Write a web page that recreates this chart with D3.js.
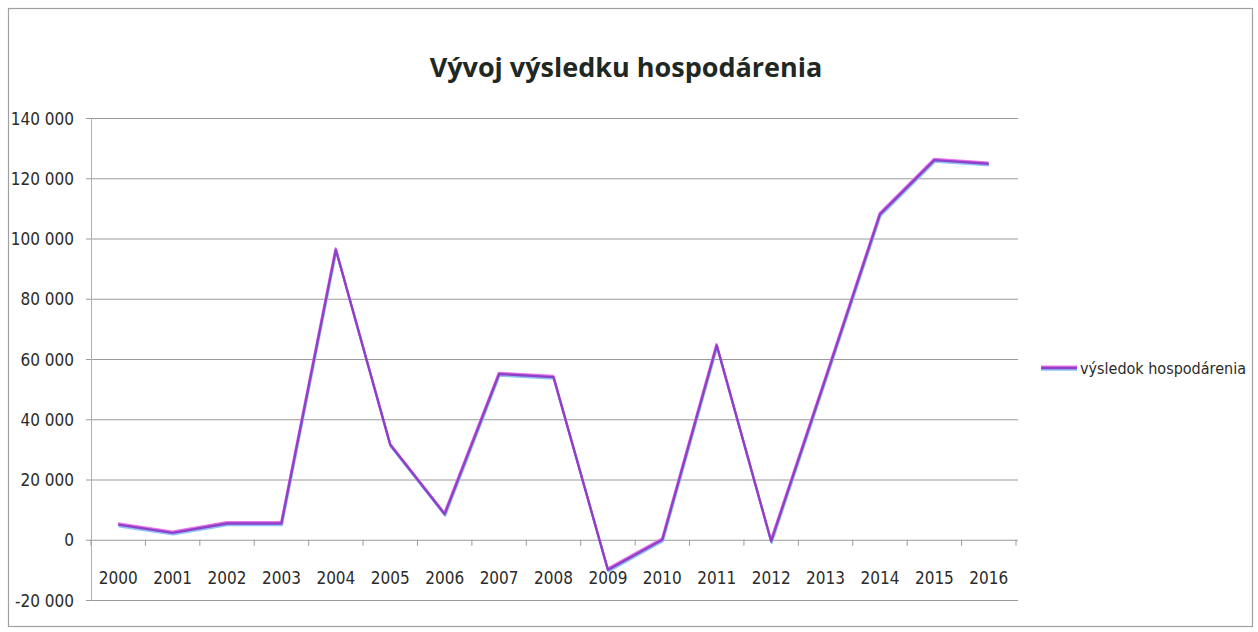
<!DOCTYPE html>
<html lang="sk">
<head>
<meta charset="UTF-8">
<title>Vývoj výsledku hospodárenia</title>
<script src="https://d3js.org/d3.v7.min.js"></script>
<style>
body {
  margin: 0;
  background: #fff;
  font-family: 'Liberation Sans Narrow', 'DejaVu Sans Condensed', sans-serif;
}
.axis text {
  fill: #2b2b2b;
  font-size: 17px;
  font-family: 'Liberation Sans Narrow', 'DejaVu Sans Condensed', sans-serif;
}
.grid line {
  stroke: #9a9a9a;
  stroke-width: 1.1;
}
.grid .domain { display: none; }
</style>
</head>
<body>
<svg width="1258" height="632"></svg>
<script>
// data
var years = ["2000", "2001", "2002", "2003", "2004", "2005", "2006", "2007", "2008",
             "2009", "2010", "2011", "2012", "2013", "2014", "2015", "2016"];
var values = [5000, 2300, 5400, 5400, 96300, 31500, 8500, 55000, 54000,
              -10000, 0, 64500, -500, 53500, 108000, 126000, 124800];
var yTicks = [-20000, 0, 20000, 40000, 60000, 80000, 100000, 120000, 140000];
var seriesName = "výsledok hospodárenia";
var title = "Vývoj výsledku hospodárenia";

var svg = d3.select("svg");

var plotLeft = 91, plotRight = 1016, plotTop = 118, plotBottom = 600;

var x = d3.scaleBand().domain(years).range([plotLeft, plotRight]);
var y = d3.scaleLinear().domain([-20000, 140000]).range([plotBottom, plotTop]);

var fmt = d3.formatLocale({
  decimal: ",", thousands: " ", grouping: [3], currency: ["", " €"], minus: "-"
}).format(",d");

// outer chart frame
svg.append("rect")
  .attr("x", 8.5).attr("y", 8.5)
  .attr("width", 1244).attr("height", 618)
  .attr("fill", "none")
  .attr("stroke", "#a0a0a0")
  .attr("stroke-width", 1.2);

// title
svg.append("text")
  .attr("x", 626)
  .attr("y", 77)
  .attr("text-anchor", "middle")
  .style("font-family", "'Open Sans', sans-serif")
  .style("font-weight", "bold")
  .style("font-size", "27px")
  .style("fill", "#1f2823")
  .text(title);

// horizontal gridlines
svg.append("g")
  .attr("class", "grid")
  .attr("transform", "translate(" + plotLeft + ",0)")
  .call(d3.axisLeft(y).tickValues(yTicks).tickSize(-(plotRight - plotLeft + 2)).tickFormat(""));

// y axis with small outside ticks and labels
var yAxis = svg.append("g")
  .attr("class", "axis")
  .attr("transform", "translate(" + plotLeft + ",0)")
  .call(d3.axisLeft(y).tickValues(yTicks).tickSize(5).tickPadding(12).tickFormat(fmt));
yAxis.select(".domain").attr("stroke", "#b0b0b0");
yAxis.selectAll(".tick line").attr("stroke", "#9a9a9a");
yAxis.selectAll(".tick text").attr("dy", "0.36em");

// x axis along zero line, ticks between categories
var xAxis = svg.append("g")
  .attr("class", "axis")
  .attr("transform", "translate(0," + y(0) + ")")
  .call(d3.axisBottom(x).tickSize(0).tickPadding(32));
xAxis.select(".domain").remove();

svg.append("g")
  .selectAll("line")
  .data(years.concat(["end"]))
  .join("line")
  .attr("x1", function(d) { return d === "end" ? plotRight : x(d); })
  .attr("x2", function(d) { return d === "end" ? plotRight : x(d); })
  .attr("y1", y(0))
  .attr("y2", y(0) + 6)
  .attr("stroke", "#9a9a9a")
  .attr("stroke-width", 1);

// the series line (scan gives pink/blue fringes)
var line = d3.line()
  .x(function(d, i) { return x(years[i]) + x.bandwidth() / 2; })
  .y(function(d) { return y(d); });

var lineG = svg.append("g");
lineG.append("path")
  .datum(values)
  .attr("d", line)
  .attr("transform", "translate(0.5,1.6)")
  .attr("fill", "none")
  .attr("stroke", "#8ec2f6")
  .attr("stroke-width", 2.2)
  .attr("stroke-linejoin", "round");
lineG.append("path")
  .datum(values)
  .attr("d", line)
  .attr("transform", "translate(-0.3,-1.3)")
  .attr("fill", "none")
  .attr("stroke", "#e872e8")
  .attr("stroke-width", 2.2)
  .attr("stroke-linejoin", "round");
lineG.append("path")
  .datum(values)
  .attr("d", line)
  .attr("fill", "none")
  .attr("stroke", "#9040c8")
  .attr("stroke-width", 2.4)
  .attr("stroke-linejoin", "round");

// legend
var legend = svg.append("g").attr("transform", "translate(1041,368)");
legend.append("line").attr("x1", 0).attr("x2", 36).attr("y1", 1.6).attr("y2", 1.6)
  .attr("stroke", "#8ec2f6").attr("stroke-width", 2.2);
legend.append("line").attr("x1", 0).attr("x2", 36).attr("y1", -1.3).attr("y2", -1.3)
  .attr("stroke", "#e872e8").attr("stroke-width", 2.2);
legend.append("line").attr("x1", 0).attr("x2", 36).attr("y1", 0).attr("y2", 0)
  .attr("stroke", "#9040c8").attr("stroke-width", 2.4);
legend.append("text")
  .attr("x", 39)
  .attr("y", 0)
  .attr("dy", "0.35em")
  .style("font-size", "16px")
  .style("fill", "#2b2b2b")
  .text(seriesName);
</script>
</body>
</html>
